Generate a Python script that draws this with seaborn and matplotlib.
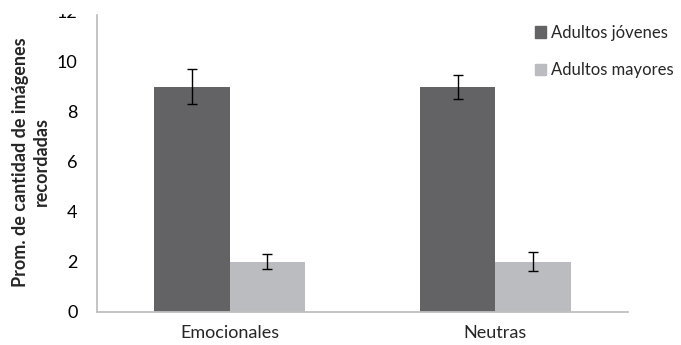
import pandas as pd
import numpy as np
import matplotlib
matplotlib.use("Agg")
import matplotlib.pyplot as plt
import seaborn as sns
from matplotlib.patches import Rectangle

# data
categories = ["Emocionales", "Neutras"]
groups = ["Adultos jóvenes", "Adultos mayores"]
jovenes = [9.0, 9.0]
mayores = [2.0, 2.0]
err_jovenes = [0.70, 0.48]
err_mayores = [0.30, 0.38]
colors = ["#636366", "#BBBCBF"]

df = pd.DataFrame({
    "categoria": categories * 2,
    "grupo": [groups[0]] * 2 + [groups[1]] * 2,
    "valor": jovenes + mayores,
    "error": err_jovenes + err_mayores,
})

sns.set_style("white")
plt.rcParams["font.family"] = ["Lato", "DejaVu Sans"]

fig = plt.figure(figsize=(6.81, 3.45), dpi=100)
ax = fig.add_axes([97 / 681, 33 / 345, 531 / 681, 300.6 / 345])

sns.barplot(data=df, x="categoria", y="valor", hue="grupo", order=categories,
            hue_order=groups, palette=colors, width=0.568, gap=0,
            errorbar=None, saturation=1, ax=ax, linewidth=0)

# error bars on top of each bar
for cont, g in zip(ax.containers, groups):
    sub = df[df["grupo"] == g].set_index("categoria").loc[categories]
    xs = [p.get_x() + p.get_width() / 2 for p in cont.patches]
    ax.errorbar(xs, sub["valor"], yerr=sub["error"], fmt="none", ecolor="black",
                elinewidth=1, capsize=3.6, capthick=1)

ax.set_ylim(0, 12)
ax.set_xlim(-0.5, len(categories) - 0.5)
ax.set_yticks(np.arange(0, 13, 2))
ax.set_xlabel("")
ax.set_ylabel("Prom. de cantidad de imágenes\nrecordadas", fontsize=13,
              fontweight="bold", labelpad=5, linespacing=1.3)

for s in ["top", "right"]:
    ax.spines[s].set_visible(False)
for s in ["left", "bottom"]:
    ax.spines[s].set_color("#BFBFBF")
    ax.spines[s].set_linewidth(1.3)

ax.tick_params(axis="y", direction="in", length=6, color="#BFBFBF", width=1.3,
               labelsize=13, pad=14, labelcolor="black")
ax.tick_params(axis="x", which="major", length=0, labelsize=13, pad=9)
ax.set_xticks(np.arange(-0.5, len(categories)), minor=True)
ax.tick_params(axis="x", which="minor", direction="in", length=6,
               color="#BFBFBF", width=1.3)

ax.legend_.remove()
handles = [Rectangle((0, 0), 1, 1, color=c) for c in colors]
fig.legend(handles, groups, loc="upper left", bbox_to_anchor=(528 / 681, 1 - 18 / 345),
           frameon=False, fontsize=12, handlelength=0.7, handleheight=0.7,
           handletextpad=0.3, labelspacing=1.3, borderaxespad=0)

# the reference is cropped at the top edge
fig.patches.append(Rectangle((0, 1 - 13 / 345), 1, 13 / 345, transform=fig.transFigure,
                             color="white", zorder=10))

fig.savefig("out.png", dpi=100)
